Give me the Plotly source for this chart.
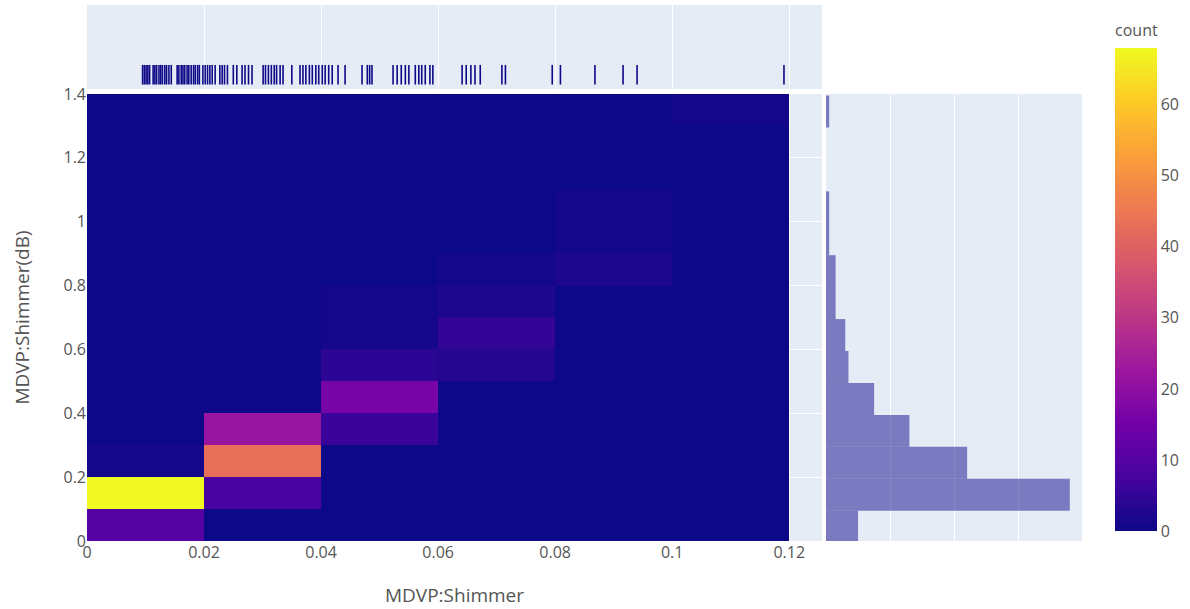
import plotly.graph_objects as go

# ---------------- data ----------------
x_bin_centers = [0.01, 0.03, 0.05, 0.07, 0.09, 0.11]
y_bin_centers = [0.05, 0.15, 0.25, 0.35, 0.45, 0.55, 0.65,
                 0.75, 0.85, 0.95, 1.05, 1.15, 1.25, 1.35]
# counts per (y bin, x bin)
counts = [
    [10, 0, 0, 0, 0, 0],
    [68, 8, 0, 0, 0, 0],
    [1, 43, 0, 0, 0, 0],
    [0, 22, 6, 0, 0, 0],
    [0, 0, 16, 0, 0, 0],
    [0, 0, 4, 3, 0, 0],
    [0, 0, 1, 5, 0, 0],
    [0, 0, 1, 2, 0, 0],
    [0, 0, 0, 1, 2, 0],
    [0, 0, 0, 0, 1, 0],
    [0, 0, 0, 0, 1, 0],
    [0, 0, 0, 0, 0, 0],
    [0, 0, 0, 0, 0, 0],
    [0, 0, 0, 0, 0, 1],
]

# marginal histogram of MDVP:Shimmer(dB)
hist_centers = [0.045, 0.145, 0.245, 0.345, 0.445, 0.545, 0.645,
                0.745, 0.845, 0.945, 1.045, 1.145, 1.245, 1.345]
hist_counts = [10, 76, 44, 26, 15, 7, 6, 3, 3, 1, 1, 0, 0, 1]
hist_bin_width = 0.1

# rug of MDVP:Shimmer values
shimmer_rug = [
    0.0095, 0.0098, 0.0101, 0.0104, 0.0107,
    0.0113, 0.0116, 0.0119, 0.0123, 0.0126, 0.0129, 0.0133, 0.0136, 0.0140, 0.0144,
    0.0154, 0.0157, 0.0161, 0.0164, 0.0167, 0.0171, 0.0174, 0.0178, 0.0182, 0.0185,
    0.0189, 0.0192,
    0.0198, 0.0202, 0.0206, 0.0210, 0.0214, 0.0219,
    0.0227, 0.0231, 0.0235, 0.0240,
    0.0250, 0.0256,
    0.0265, 0.0270, 0.0276, 0.0282,
    0.0301, 0.0305, 0.0310, 0.0315, 0.0320, 0.0324, 0.0330, 0.0335,
    0.0350,
    0.0364, 0.0369, 0.0374, 0.0380, 0.0385, 0.0391, 0.0396, 0.0402,
    0.0407, 0.0413, 0.0419,
    0.0429, 0.0441, 0.0470,
    0.0479, 0.0483, 0.0487,
    0.0523, 0.0530, 0.0537, 0.0544, 0.0550,
    0.0561, 0.0567, 0.0572, 0.0578, 0.0586, 0.0591,
    0.0641, 0.0648, 0.0656, 0.0663, 0.0672,
    0.0709, 0.0715, 0.0795, 0.0809, 0.0868, 0.0916, 0.0940, 0.1191,
]

x_title = "MDVP:Shimmer"
y_title = "MDVP:Shimmer(dB)"
cbar_title = "count"

# ---------------- figure ----------------
TXT = "#555555"
FONT = "Open Sans, Noto Sans, sans-serif"
rug_level = 0.17

fig = go.Figure()

fig.add_trace(go.Heatmap(
    x=x_bin_centers, y=y_bin_centers, z=counts,
    colorscale="Plasma", zmin=0,
    xaxis="x", yaxis="y",
    colorbar=dict(
        title=dict(text=cbar_title, font=dict(size=16, color=TXT)),
        thickness=42, len=0.951, lenmode="fraction",
        x=1.0332, xanchor="left", xpad=0,
        y=0.0187, yanchor="bottom", ypad=0,
        outlinewidth=0, ticks="",
        tickfont=dict(size=16, color=TXT), dtick=10,
    ),
    showscale=True,
))

fig.add_trace(go.Bar(
    y=hist_centers, x=hist_counts, orientation="h", width=hist_bin_width,
    marker=dict(color="#0d0887", opacity=0.5, line=dict(width=0)),
    xaxis="x2", yaxis="y2", showlegend=False,
))

fig.add_trace(go.Scatter(
    x=shimmer_rug, y=[rug_level] * len(shimmer_rug), mode="markers",
    marker=dict(symbol="line-ns-open", size=14, color="#0d0887",
                line=dict(width=1.6, color="#0d0887")),
    xaxis="x3", yaxis="y3", showlegend=False,
))

fig.update_layout(
    width=1190, height=609,
    margin=dict(l=87, r=108, t=5, b=68, autoexpand=False),
    template="plotly",
    font=dict(family=FONT, size=16, color=TXT),
    showlegend=False,
    xaxis=dict(domain=[0, 0.7387], anchor="y", range=[0, 0.1256], dtick=0.02,
               title=dict(text=x_title, font=dict(size=19, color=TXT), standoff=26),
               tickfont=dict(size=16, color=TXT), zeroline=False),
    yaxis=dict(domain=[0, 0.834], anchor="x", range=[0, 1.4], dtick=0.2,
               title=dict(text=y_title, font=dict(size=19, color=TXT), standoff=28),
               tickfont=dict(size=16, color=TXT), zeroline=False),
    xaxis2=dict(domain=[0.7427, 1], anchor="y2", range=[0, 79.8], dtick=20,
                showticklabels=False, zeroline=False),
    yaxis2=dict(domain=[0, 0.834], anchor="x2", matches="y",
                showticklabels=False, zeroline=False),
    xaxis3=dict(domain=[0, 0.7387], anchor="y3", matches="x",
                showticklabels=False, zeroline=False),
    yaxis3=dict(domain=[0.8433, 1], anchor="x3", range=[0, 1],
                showticklabels=False, showgrid=False, zeroline=False),
)

fig.write_html(
    "out.html",
    config={"displayModeBar": False},
    post_script="document.body.style.margin='0';document.body.style.overflow='hidden';",
)
